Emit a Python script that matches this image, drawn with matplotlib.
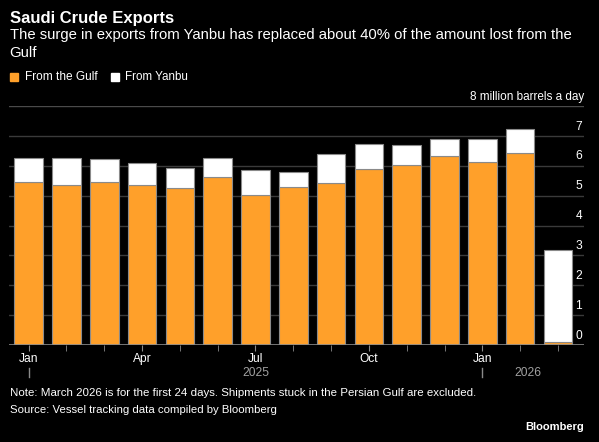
import numpy as np
import matplotlib
matplotlib.use("Agg")
import matplotlib.pyplot as plt
import matplotlib.transforms as mtransforms
from matplotlib.patches import Rectangle

# monthly exports, million barrels a day (Jan 2025 .. Mar 2026)
months = ["Jan", "Feb", "Mar", "Apr", "May", "Jun", "Jul", "Aug", "Sep",
          "Oct", "Nov", "Dec", "Jan", "Feb", "Mar"]
gulf = [5.45, 5.35, 5.44, 5.36, 5.26, 5.62, 5.03, 5.29, 5.42,
        5.88, 6.03, 6.31, 6.11, 6.44, 0.09]
total = [6.25, 6.27, 6.21, 6.08, 5.91, 6.27, 5.87, 5.80, 6.41,
         6.74, 6.69, 6.91, 6.88, 7.22, 3.18]
yanbu = [t - g for t, g in zip(total, gulf)]

major_ticks = [0, 3, 6, 9, 12]
major_labels = ["Jan", "Apr", "Jul", "Oct", "Jan"]
years = ["2025", "2026"]
year_pos = [6, 13.2]
year_starts = [0, 12]
yticks = [0, 1, 2, 3, 4, 5, 6, 7]

ORANGE = "#ffa02a"
BG = "black"
GRID = "#3a3a3a"
W, H = 599, 442

plt.rcParams["font.family"] = ["Liberation Sans", "DejaVu Sans"]

fig = plt.figure(figsize=(W / 100, H / 100), dpi=100, facecolor=BG)
renderer = fig.canvas.get_renderer()


def fit_text(px, py, s, width, ha="left", **kw):
    # put text at pixel position and scale font so it spans `width` pixels
    t = fig.text(px / W, 1 - py / H, s, ha=ha, va="center", color=kw.pop("color", "white"),
                 fontsize=10, **kw)
    w = t.get_window_extent(renderer).width
    t.set_fontsize(10 * width / w)
    return t


def size_for(s, width, **kw):
    t = fig.text(0, 0, s, fontsize=10, **kw)
    w = t.get_window_extent(renderer).width
    t.remove()
    return 10 * width / w


ax = fig.add_axes([9 / W, 1 - 345 / H, 575 / W, 239 / H])
ax.set_facecolor(BG)

x = np.arange(len(months))
ax.bar(x, gulf, width=0.76, color=ORANGE, edgecolor="#8a8a8a", linewidth=0.8, zorder=3)
ax.bar(x, yanbu, bottom=gulf, width=0.76, color="white", edgecolor="#8a8a8a",
       linewidth=0.8, zorder=3)

ax.set_xlim(-0.52, 14.69)
ax.set_ylim(0, 8)

for v in yticks[1:]:
    ax.axhline(v, color=GRID, linewidth=1, zorder=1)
ax.axhline(8, color="#4a4a4a", linewidth=1, zorder=1)
ax.axhline(0, color="#8a8a8a", linewidth=1.2, zorder=4)

for s in ax.spines.values():
    s.set_visible(False)

tick_fs = size_for("2026", 27)

ax.set_yticks([])
trans = mtransforms.blended_transform_factory(ax.transAxes, ax.transData)
for v in yticks:
    ax.text(0.997, v + 0.31, str(v), transform=trans, ha="right", va="center",
            color="white", fontsize=tick_fs)

ax.set_xticks(major_ticks)
ax.set_xticklabels(major_labels)
ax.set_xticks(x, minor=True)
ax.tick_params(axis="x", which="both", length=4, color="#8a8a8a", colors="white",
               labelsize=tick_fs, pad=2)

for yr, p in zip(years, year_pos):
    ax.text(p, -27.5 / 29.86, yr, ha="center", va="center", color="#a0a0a0",
            fontsize=tick_fs, clip_on=False)
for p in year_starts:
    ax.plot([p, p], [-22.7 / 29.86, -32 / 29.86], color="#8a8a8a", linewidth=1,
            clip_on=False)

fit_text(9.5, 19, "Saudi Crude Exports", 165, fontweight="bold")
sub = fit_text(9.5, 35,
               "The surge in exports from Yanbu has replaced about 40% of the amount lost from the",
               563)
fig.text(9.5 / W, 1 - 53 / H, "Gulf", color="white", fontsize=sub.get_fontsize(), va="center")

fig.add_artist(Rectangle((9.5 / W, 1 - 81 / H), 8 / W, 8 / H, color=ORANGE,
                         transform=fig.transFigure))
fit_text(25, 77, "From the Gulf", 73)
fig.add_artist(Rectangle((110.7 / W, 1 - 81 / H), 8 / W, 8 / H, color="white",
                         transform=fig.transFigure))
fit_text(125, 77, "From Yanbu", 63)

fit_text(584, 97, "8 million barrels a day", 115, ha="right")

fit_text(9.5, 393,
         "Note: March 2026 is for the first 24 days. Shipments stuck in the Persian Gulf are excluded.",
         465)
fit_text(9.5, 410, "Source: Vessel tracking data compiled by Bloomberg", 266)
fit_text(584, 427, "Bloomberg", 59, ha="right", fontweight="bold")

fig.savefig("out.png", dpi=100, facecolor=BG)
